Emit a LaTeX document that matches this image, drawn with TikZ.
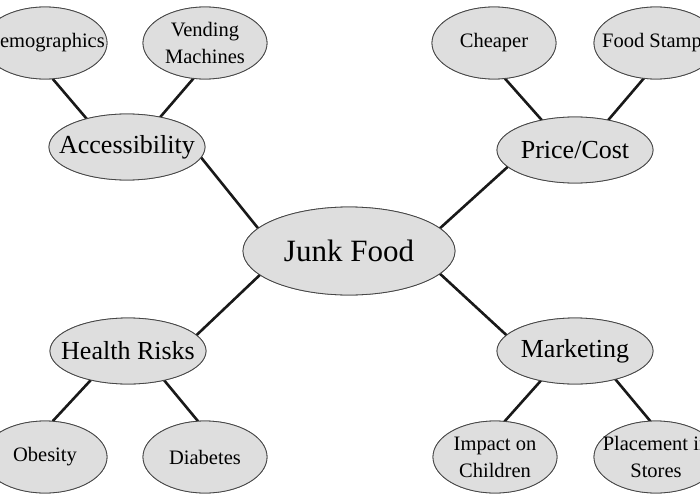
\documentclass[tikz,border=0pt]{standalone}
\usepackage{fontspec}
\setmainfont{Liberation Serif}
\usetikzlibrary{shapes.geometric}
\definecolor{bubble}{RGB}{222,222,222}
\definecolor{rim}{RGB}{70,70,70}
\tikzset{
  bub/.style={ellipse, draw=rim, line width=0.8pt, fill=bubble, inner sep=0pt, outer sep=0pt},
  hub/.style={bub, minimum width=212pt, minimum height=88pt},
  mid/.style={bub, minimum width=156pt, minimum height=66pt},
  leaf/.style={bub, minimum width=124pt, minimum height=72pt},
  hubtxt/.style={font=\fontsize{31}{37}\selectfont, inner sep=0pt},
  midtxt/.style={font=\fontsize{26}{31}\selectfont, inner sep=0pt},
  leaftxt/.style={font=\fontsize{20.5}{27}\selectfont, align=center, inner sep=0pt},
  link/.style={line width=2.6pt, black!90}
}
\begin{document}
\begin{tikzpicture}[x=1pt,y=-1pt]
\useasboundingbox (0,0) rectangle (700,500);
\clip (0,0) rectangle (700,500);
\fill[white] (0,0) rectangle (700,500);
% connectors first (drawn under the ellipses)
\node[hub] (jf) at (349,251) {};
\node[mid] (acc) at (127,147) {};
\node[mid] (price) at (575,150) {};
\node[mid] (health) at (128,351) {};
\node[mid] (mkt) at (575,351) {};
\node[leaf] (demo) at (45,43) {};
\node[leaf] (vend) at (205,43) {};
\node[leaf] (cheap) at (494,43) {};
\node[leaf] (stamps) at (656,43) {};
\node[leaf] (obes) at (45,457) {};
\node[leaf] (diab) at (205,457) {};
\node[leaf] (impact) at (495,457) {};
\node[leaf] (place) at (656,457) {};
\draw[link] (jf.166) -- (acc.352);
\draw[link] (jf.14) -- (price.194);
\draw[link] (jf.195) -- (health.13);
\draw[link] (jf.346) -- (mkt.167);
\draw[link] (acc.145) -- (demo.282);
\draw[link] (acc.42) -- (vend.252);
\draw[link] (price.138) -- (cheap.287);
\draw[link] (price.42) -- (stamps.251);
\draw[link] (health.218) -- (obes.78);
\draw[link] (health.321) -- (diab.101);
\draw[link] (mkt.221) -- (impact.75);
\draw[link] (mkt.325) -- (place.99);
% ellipses with text on top
\node[hub, label={[hubtxt]center:Junk Food}] at (jf) {};
\node[mid, label={[midtxt]center:Accessibility}] at (acc) {};
\node[mid, label={[midtxt]center:Price/Cost}] at (price) {};
\node[mid, label={[midtxt]center:Health Risks}] at (health) {};
\node[mid, label={[midtxt]center:Marketing}] at (mkt) {};
\node[leaf, label={[leaftxt]center:Demographics}] at (demo) {};
\node[leaf, label={[leaftxt]center:Vending\\Machines}] at (vend) {};
\node[leaf, label={[leaftxt]center:Cheaper}] at (cheap) {};
\node[leaf, label={[leaftxt]center:Food Stamps}] at (stamps) {};
\node[leaf, label={[leaftxt]center:Obesity}] at (obes) {};
\node[leaf, label={[leaftxt]center:Diabetes}] at (diab) {};
\node[leaf, label={[leaftxt]center:Impact on\\Children}] at (impact) {};
\node[leaf, label={[leaftxt]center:Placement in\\Stores}] at (place) {};
\end{tikzpicture}
\end{document}
